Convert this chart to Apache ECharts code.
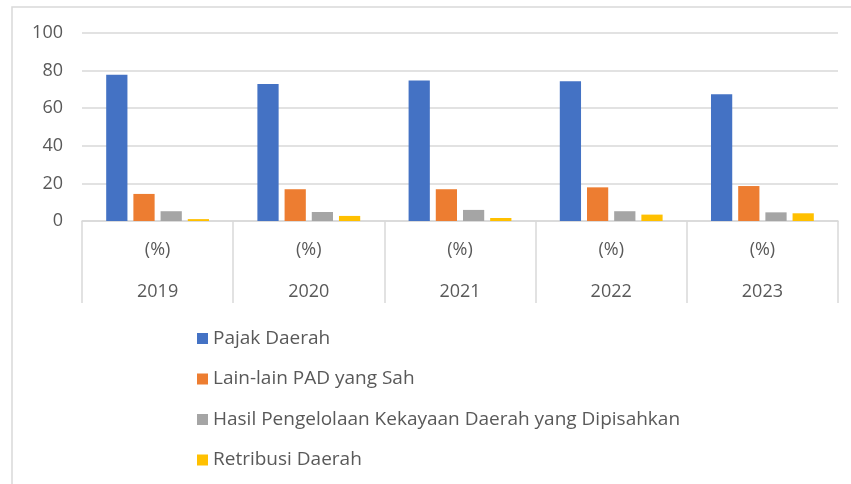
<!DOCTYPE html>
<html>
<head>
<meta charset="utf-8">
<script src="https://cdn.jsdelivr.net/npm/echarts@6/dist/echarts.min.js"></script>
<style>
html, body { margin: 0; padding: 0; background: #fff; }
#main { width: 851px; height: 484px; }
</style>
</head>
<body>
<div id="main"></div>
<script>
// data
var years = ['2019', '2020', '2021', '2022', '2023'];
var pajakDaerah = [77.8, 72.9, 74.8, 74.3, 67.4];
var lainLain = [14.4, 16.9, 16.9, 17.9, 18.6];
var hasilPengelolaan = [5.2, 4.8, 5.9, 5.2, 4.6];
var retribusi = [1.0, 2.7, 1.6, 3.4, 4.1];
var yTicks = [0, 20, 40, 60, 80, 100];

var seriesNames = ['Pajak Daerah', 'Lain-lain PAD yang Sah',
	'Hasil Pengelolaan Kekayaan Daerah yang Dipisahkan', 'Retribusi Daerah'];
var seriesData = [pajakDaerah, lainLain, hasilPengelolaan, retribusi];
var colors = ['#4472c4', '#ed7d31', '#a5a5a5', '#ffc000'];

var font = '"Open Sans", "DejaVu Sans", sans-serif';

var series = [];
for (var i = 0; i < seriesNames.length; i++) {
	series.push({
		name: seriesNames[i],
		type: 'bar',
		data: seriesData[i],
		barGap: '28%',
		barCategoryGap: '32%',
		itemStyle: { color: colors[i] }
	});
}

var myChart = echarts.init(document.getElementById('main'), null, { renderer: 'canvas' });
var option = {
	animation: false,
	color: colors,
	graphic: [{
		type: 'rect',
		shape: { x: 12, y: 7, width: 850, height: 490 },
		style: { fill: 'none', stroke: '#d9d9d9', lineWidth: 1.5 },
		silent: true
	}],
	grid: { left: 82, right: 13, top: 33, bottom: 263 },
	legend: {
		orient: 'vertical',
		left: 192,
		top: 323,
		icon: 'rect',
		itemWidth: 11,
		itemHeight: 11,
		itemGap: 19.5,
		data: seriesNames,
		textStyle: { color: '#595959', fontSize: 19, fontFamily: font, lineHeight: 21 }
	},
	xAxis: {
		type: 'category',
		data: years,
		axisLine: { lineStyle: { color: '#d9d9d9', width: 1.5 } },
		axisTick: { show: true, interval: 0, length: 82, lineStyle: { color: '#d9d9d9', width: 1.5 } },
		axisLabel: {
			interval: 0,
			margin: 8,
			formatter: function (v) { return '{a|(%)}\n{b|' + v + '}'; },
			rich: {
				a: { color: '#595959', fontSize: 18, fontFamily: font, lineHeight: 42 },
				b: { color: '#595959', fontSize: 18, fontFamily: font, lineHeight: 42 }
			}
		}
	},
	yAxis: {
		type: 'value',
		min: yTicks[0],
		max: yTicks[yTicks.length - 1],
		interval: 20,
		axisLine: { show: false },
		axisTick: { show: false },
		splitLine: { lineStyle: { color: '#d9d9d9', width: 1.5 } },
		axisLabel: { color: '#595959', fontSize: 18, fontFamily: font, margin: 19 }
	},
	series: series
};
myChart.setOption(option);
</script>
</body>
</html>
